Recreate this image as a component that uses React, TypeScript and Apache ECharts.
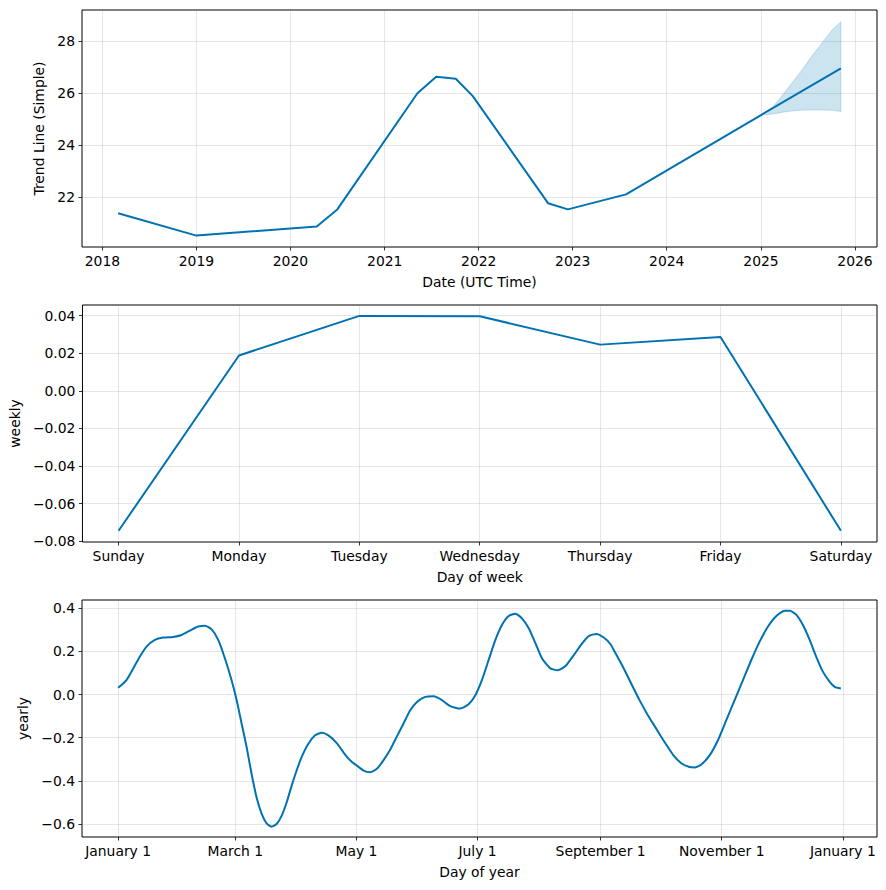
import React, { useEffect, useRef } from "react";
import * as echarts from "echarts";

// ---------- Trend (top panel) ----------
const trendDates = [
  "2018-03-03", "2019-01-01", "2020-04-12", "2020-07-01", "2021-05-08", "2021-07-20",
  "2021-10-04", "2021-12-09", "2022-09-27", "2022-12-13", "2023-07-27", "2025-01-01", "2025-11-07",
];
const trendValues = [21.37, 20.51, 20.86, 21.52, 26.0, 26.64, 26.56, 25.89, 21.76, 21.52, 22.1, 25.16, 26.96];

const bandDates = [
  "2025-01-01", "2025-02-17", "2025-03-26", "2025-05-05", "2025-06-14", "2025-07-20",
  "2025-08-29", "2025-10-04", "2025-11-07",
];
const bandLower = [25.16, 25.2, 25.27, 25.32, 25.35, 25.35, 25.35, 25.34, 25.3];
const bandUpper = [25.16, 25.48, 25.93, 26.44, 26.96, 27.47, 27.98, 28.44, 28.76];

const trendYearTicks = [2018, 2019, 2020, 2021, 2022, 2023, 2024, 2025, 2026];
const trendYTicks = [22, 24, 26, 28];

// ---------- Weekly (middle panel) ----------
const weekDays = ["Sunday", "Monday", "Tuesday", "Wednesday", "Thursday", "Friday", "Saturday"];
const weeklyValues = [-0.0745, 0.0188, 0.0399, 0.0397, 0.0246, 0.0287, -0.0745];
const weeklyYTicks = [-0.08, -0.06, -0.04, -0.02, 0, 0.02, 0.04];

// ---------- Yearly (bottom panel) ----------
const yearlyDays = [
  0, 4.2, 7.6, 10.9, 14.3, 18.5, 22.7, 27.7, 31.9, 36.1, 40.3, 43.7, 47.1, 50.4, 53.8, 57.1, 59.7,
  62.2, 64.7, 67.2, 69.7, 72.3, 74.8, 77.3, 79.8, 82.4, 84.9, 87.4, 89.9, 92.4, 95.8, 99.2, 102.5,
  105.9, 110.1, 114.3, 117.5, 120.2, 123.6, 126.9, 130.3, 133.6, 137.0, 140.4, 143.7, 147.1, 150.5,
  154.7, 158.9, 163.1, 167.3, 172.3, 176.5, 179.9, 183.2, 186.6, 190.0, 193.3, 196.7, 200.1, 203.4,
  206.8, 210.2, 213.5, 217.7, 221.4, 225.3, 229.5, 233.7, 237.0, 240.9, 244.6, 248.0, 250.1, 254.2,
  258.4, 262.6, 266.8, 271.0, 275.2, 279.4, 283.6, 287.8, 290.3, 293.7, 297.9, 302.1, 306.3, 310.5,
  314.7, 318.9, 323.1, 327.3, 331.5, 335.7, 338.2, 341.6, 344.9, 348.3, 351.6, 355.0, 358.4, 360.9,
  364.0,
];
const yearlyValues = [
  0.031, 0.067, 0.121, 0.175, 0.222, 0.253, 0.264, 0.267, 0.276, 0.296, 0.315, 0.319, 0.302, 0.253,
  0.167, 0.067, -0.026, -0.135, -0.243, -0.367, -0.476, -0.553, -0.597, -0.612, -0.6, -0.561, -0.499,
  -0.422, -0.352, -0.29, -0.228, -0.189, -0.177, -0.189, -0.225, -0.278, -0.31, -0.329, -0.352,
  -0.36, -0.344, -0.305, -0.256, -0.194, -0.135, -0.073, -0.034, -0.011, -0.008, -0.026, -0.054,
  -0.065, -0.045, -0.003, 0.067, 0.16, 0.253, 0.322, 0.364, 0.374, 0.353, 0.307, 0.237, 0.167, 0.121,
  0.113, 0.132, 0.183, 0.237, 0.271, 0.281, 0.264, 0.233, 0.198, 0.129, 0.051, -0.026, -0.096, -0.158,
  -0.22, -0.278, -0.318, -0.336, -0.338, -0.324, -0.282, -0.212, -0.119, -0.026, 0.067, 0.16, 0.245,
  0.315, 0.364, 0.388, 0.388, 0.369, 0.322, 0.253, 0.175, 0.105, 0.059, 0.036, 0.028,
];
const yearlyTickDays = [0, 59, 120, 181, 243, 304, 365];
const yearlyTickLabels = ["January 1", "March 1", "May 1", "July 1", "September 1", "November 1", "January 1"];
const yearlyYTicks = [-0.6, -0.4, -0.2, 0, 0.2, 0.4];

const LINE = "#0072B2";
const FONT = "DejaVu Sans";
const FS = 13.9;

const toMs = (s: string) => {
  const [y, m, d] = s.split("-").map(Number);
  return Date.UTC(y, m - 1, d);
};
const fmtNum = (v: number, dec: number) => {
  const s = Math.abs(v) < 1e-12 ? (0).toFixed(dec) : v.toFixed(dec);
  return s.replace("-", "\u2212");
};

function baseAxis(extra: any) {
  return {
    type: "value",
    axisLine: { show: false, onZero: false },
    axisTick: {
      show: true,
      inside: false,
      length: 3.5,
      lineStyle: { color: "#000", width: 0.8 },
      customValues: extra.ticks,
    },
    axisLabel: {
      customValues: extra.ticks,
      formatter: extra.formatter,
      color: "#000",
      fontSize: FS,
      fontFamily: FONT,
      margin: 7,
    },
    splitLine: { show: true, lineStyle: { color: "rgba(128,128,128,0.2)", width: 1 } },
    name: extra.name,
    nameLocation: "middle",
    nameGap: extra.nameGap,
    nameTextStyle: { color: "#000", fontSize: FS, fontFamily: FONT },
    min: extra.min,
    max: extra.max,
    gridIndex: extra.gridIndex,
  };
}

export default function App() {
  const ref = useRef<HTMLDivElement>(null);

  useEffect(() => {
    if (!ref.current) return;
    const chart = echarts.init(ref.current, undefined, { renderer: "svg" });

    const trendData = trendDates.map((d, i) => [toMs(d), trendValues[i]]);
    const bandData = bandDates.map((d, i) => [toMs(d), bandLower[i], bandUpper[i]]);
    const weeklyData = weeklyValues.map((v, i) => [i, v]);
    const yearlyData = yearlyDays.map((d, i) => [d, yearlyValues[i]]);

    const yearMs = (y: number) => Date.UTC(y, 0, 1);
    const tStart = toMs(trendDates[0]);
    const tEnd = toMs(trendDates[trendDates.length - 1]);
    const tPad = (tEnd - tStart) * 0.05;

    const grids = [
      { left: 82, right: 9, top: 10, height: 237 },
      { left: 82, right: 9, top: 305, height: 237 },
      { left: 82, right: 9, top: 600, height: 237 },
    ].map((g) => ({ ...g, show: true, borderColor: "#000", borderWidth: 1, backgroundColor: "transparent" }));

    const option: any = {
      animation: false,
      backgroundColor: "#fff",
      textStyle: { fontFamily: FONT },
      grid: grids,
      xAxis: [
        baseAxis({
          gridIndex: 0,
          min: tStart - tPad,
          max: tEnd + tPad,
          ticks: trendYearTicks.map(yearMs),
          formatter: (v: number) => String(new Date(v).getUTCFullYear()),
          name: "Date (UTC Time)",
          nameGap: 28,
        }),
        baseAxis({
          gridIndex: 1,
          min: -0.3,
          max: 6.3,
          ticks: weekDays.map((_, i) => i),
          formatter: (v: number) => weekDays[Math.round(v)],
          name: "Day of week",
          nameGap: 28,
        }),
        baseAxis({
          gridIndex: 2,
          min: -18.2,
          max: 382.2,
          ticks: yearlyTickDays,
          formatter: (v: number) => yearlyTickLabels[yearlyTickDays.indexOf(Math.round(v))] ?? "",
          name: "Day of year",
          nameGap: 28,
        }),
      ],
      yAxis: [
        baseAxis({
          gridIndex: 0,
          min: 20.07,
          max: 29.21,
          ticks: trendYTicks,
          formatter: (v: number) => String(Math.round(v)),
          name: "Trend Line (Simple)",
          nameGap: 34,
        }),
        baseAxis({
          gridIndex: 1,
          min: -0.0805,
          max: 0.0457,
          ticks: weeklyYTicks,
          formatter: (v: number) => fmtNum(v, 2),
          name: "weekly",
          nameGap: 58,
        }),
        baseAxis({
          gridIndex: 2,
          min: -0.66,
          max: 0.438,
          ticks: yearlyYTicks,
          formatter: (v: number) => fmtNum(v, 1),
          name: "yearly",
          nameGap: 50,
        }),
      ],
      series: [
        {
          type: "custom",
          xAxisIndex: 0,
          yAxisIndex: 0,
          data: bandData,
          encode: { x: 0, y: [1, 2] },
          silent: true,
          z: 1,
          renderItem: (params: any, api: any) => {
            if (params.dataIndex !== 0) return null;
            const pts: number[][] = [];
            for (let i = 0; i < bandData.length; i++) pts.push(api.coord([bandData[i][0], bandData[i][2]]));
            for (let i = bandData.length - 1; i >= 0; i--) pts.push(api.coord([bandData[i][0], bandData[i][1]]));
            return {
              type: "polygon",
              shape: { points: pts },
              style: { fill: "rgba(0,114,178,0.2)", stroke: "rgba(0,114,178,0.2)", lineWidth: 1 },
            };
          },
        },
        {
          type: "line",
          xAxisIndex: 0,
          yAxisIndex: 0,
          data: trendData,
          symbol: "none",
          lineStyle: { color: LINE, width: 2 },
          z: 2,
        },
        {
          type: "line",
          xAxisIndex: 1,
          yAxisIndex: 1,
          data: weeklyData,
          symbol: "none",
          lineStyle: { color: LINE, width: 2 },
        },
        {
          type: "line",
          xAxisIndex: 2,
          yAxisIndex: 2,
          data: yearlyData,
          symbol: "none",
          smooth: 0.2,
          lineStyle: { color: LINE, width: 2 },
        },
      ],
    };

    chart.setOption(option);
    return () => chart.dispose();
  }, []);

  return (
    <div
      ref={ref}
      style={{ position: "absolute", left: 0, top: 0, width: 886, height: 890, background: "#fff" }}
    />
  );
}
